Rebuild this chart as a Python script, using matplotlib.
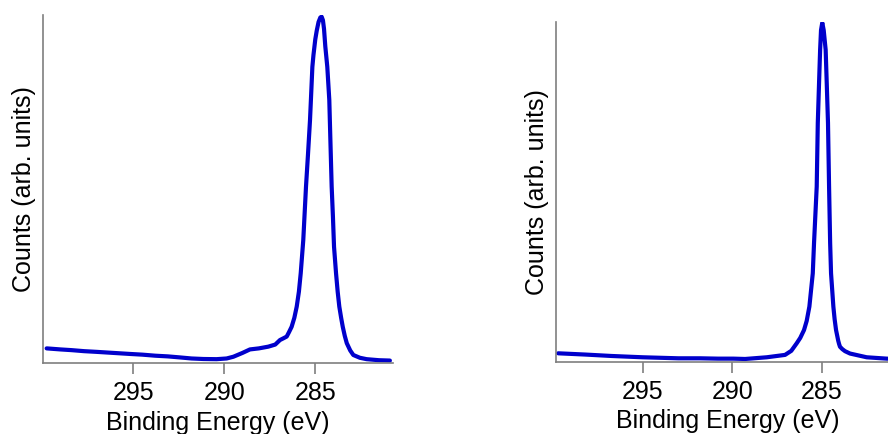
import matplotlib
matplotlib.use("Agg")
import matplotlib.pyplot as plt

plt.rcParams['font.family'] = ['Liberation Sans', 'DejaVu Sans']

# C 1s spectrum, sample A (binding energy in eV, normalised counts)
energy_a = [299.76, 299.0, 298.4, 297.7, 297.01, 296.1, 295.18, 294.5, 293.8,
            293.1, 292.43, 291.8, 291.15, 290.42, 289.87, 289.5, 289.0, 288.59,
            288.1, 287.58, 287.2, 286.94, 286.75, 286.57, 286.45, 286.30, 286.15,
            286.02, 285.90, 285.80, 285.66, 285.51, 285.40, 285.29, 285.22, 285.16,
            285.10, 285.00, 284.92, 284.82, 284.72, 284.65, 284.58, 284.52, 284.45,
            284.34, 284.23, 284.17, 284.10, 284.03, 283.97, 283.86, 283.77, 283.68,
            283.58, 283.49, 283.38, 283.27, 283.08, 282.91, 282.55, 282.18, 281.5,
            280.90]
counts_a = [0.042, 0.039, 0.037, 0.034, 0.032, 0.029, 0.026, 0.024, 0.021,
            0.019, 0.016, 0.013, 0.0115, 0.011, 0.013, 0.018, 0.029, 0.039,
            0.042, 0.047, 0.053, 0.066, 0.071, 0.076, 0.088, 0.104, 0.130,
            0.162, 0.205, 0.258, 0.353, 0.507, 0.600, 0.698, 0.780, 0.851,
            0.885, 0.930, 0.955, 0.980, 0.993, 0.995, 0.985, 0.960, 0.910,
            0.851, 0.756, 0.640, 0.507, 0.420, 0.334, 0.258, 0.205, 0.162,
            0.130, 0.104, 0.078, 0.057, 0.036, 0.023, 0.015, 0.011, 0.008,
            0.007]

# C 1s spectrum, sample B
energy_b = [299.72, 298.2, 296.73, 295.0, 293.01, 291.80, 290.8, 289.94, 289.28,
            288.07, 287.05, 286.70, 286.40, 286.20, 285.99, 285.84, 285.69, 285.50,
            285.43, 285.28, 285.22, 285.15, 285.09, 285.04, 284.97, 284.89, 284.78,
            284.72, 284.65, 284.59, 284.53, 284.48, 284.35, 284.28, 284.20, 284.13,
            284.08, 284.03, 283.98, 283.85, 283.70, 283.42, 282.49, 281.37, 280.70]
counts_b = [0.0247, 0.021, 0.0168, 0.013, 0.010, 0.010, 0.009, 0.009, 0.008,
            0.013, 0.020, 0.032, 0.054, 0.070, 0.093, 0.120, 0.162, 0.260,
            0.349, 0.515, 0.702, 0.819, 0.917, 0.975, 0.997, 0.975, 0.917,
            0.819, 0.702, 0.515, 0.349, 0.260, 0.162, 0.125, 0.093, 0.075,
            0.062, 0.052, 0.044, 0.037, 0.031, 0.024, 0.013, 0.009, 0.008]

xticks = [295, 290, 285]
xlabel = "Binding Energy (eV)"
ylabel = "Counts (arb. units)"

line_color = "#0000CC"
spine_color = "#7f7f7f"

fig = plt.figure(figsize=(8.88, 4.34), dpi=100)
ax_a = fig.add_axes([43 / 888, 71 / 434, 350 / 888, 348 / 434])
ax_b = fig.add_axes([555.7 / 888, 72.3 / 434, 344.8 / 888, 340 / 434])

panels = [
    (ax_a, energy_a, counts_a, (299.96, 280.73)),
    (ax_b, energy_b, counts_b, (299.86, 280.60)),
]

for ax, e, c, xl in panels:
    ax.plot(e, c, color=line_color, lw=3.0, solid_joinstyle="round",
            solid_capstyle="round")
    ax.set_xlim(*xl)
    ax.set_ylim(0, 1)
    ax.set_xticks(xticks)
    ax.set_xticklabels([str(t) for t in xticks])
    ax.set_yticks([])
    for side in ("top", "right"):
        ax.spines[side].set_visible(False)
    for side in ("left", "bottom"):
        ax.spines[side].set_color(spine_color)
        ax.spines[side].set_linewidth(1.2)
    ax.tick_params(axis="x", direction="out", length=8, width=1.2,
                   color=spine_color, labelsize=18, pad=5, labelcolor="black")
    ax.set_xlabel(xlabel, fontsize=18, labelpad=4)
    ax.set_ylabel(ylabel, fontsize=18, labelpad=5)

fig.savefig("out.png", dpi=100)
